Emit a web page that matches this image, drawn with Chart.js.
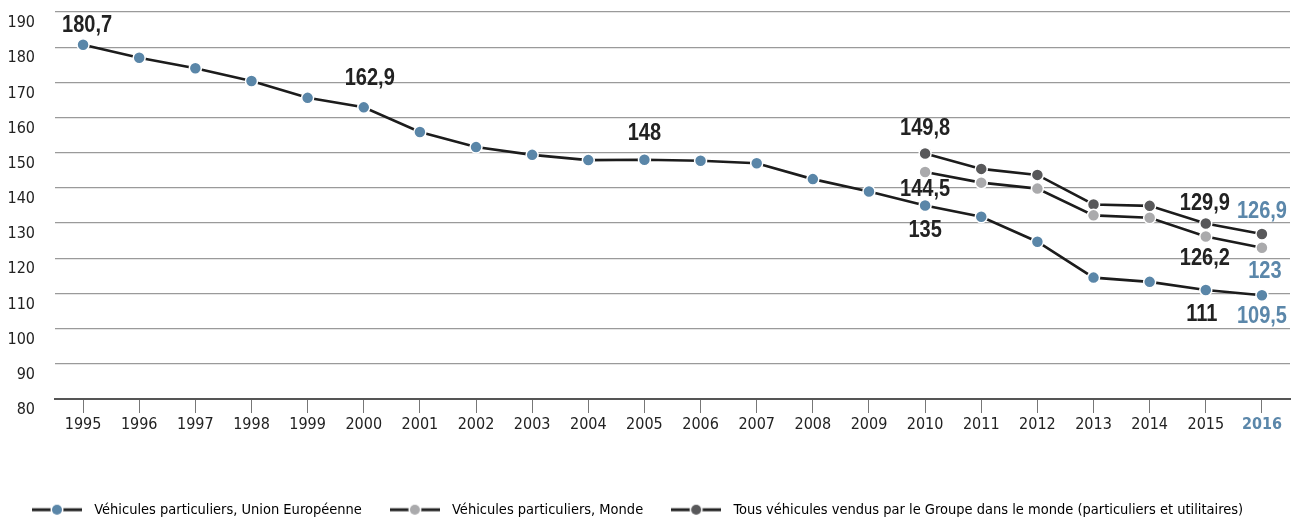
<!DOCTYPE html>
<html>
<head>
<meta charset="utf-8">
<script src="https://cdn.jsdelivr.net/npm/chart.js@4.4.0/dist/chart.umd.min.js"></script>
<style>
  html, body { margin: 0; padding: 0; background: #fff; }
  #wrap { width: 1291px; height: 519px; }
</style>
</head>
<body>
<div id="wrap"><canvas id="co2Chart" width="1291" height="519"></canvas></div>
<script>
// Years on the x axis
var years = ['1995', '1996', '1997', '1998', '1999', '2000', '2001', '2002', '2003', '2004', '2005',
             '2006', '2007', '2008', '2009', '2010', '2011', '2012', '2013', '2014', '2015', '2016'];

// Series (g CO2/km)
var euValues    = [180.7, 177.0, 174.0, 170.4, 165.6, 162.9, 155.9, 151.6, 149.4, 147.9, 148,
                   147.7, 147.0, 142.5, 139.0, 135, 131.8, 124.7, 114.5, 113.3, 111, 109.5];
var worldValues = [null, null, null, null, null, null, null, null, null, null, null,
                   null, null, null, null, 144.5, 141.5, 139.8, 132.2, 131.5, 126.2, 123];
var groupValues = [null, null, null, null, null, null, null, null, null, null, null,
                   null, null, null, null, 149.8, 145.4, 143.7, 135.3, 134.9, 129.9, 126.9];

var seriesNames = ['Véhicules particuliers, Union Européenne',
                   'Véhicules particuliers, Monde',
                   'Tous véhicules vendus par le Groupe dans le monde (particuliers et utilitaires)'];

// y axis range
var yMin = 80, yMax = 190, yStep = 10;

var FONT = "'DejaVu Sans Condensed', 'Liberation Sans', sans-serif";
var LABEL_FONT = "'Liberation Sans', Arial, sans-serif";
var BLUE = '#5b87aa';
var pointColors = ['#5a86a8', '#aaaaac', '#58585a'];

// which points get a value label (dataset, index) and where the text sits
var valueLabels = [
    { ds: 0, i: 0,  dx: 4,  dy: -19, color: '#222' },
    { ds: 0, i: 5,  dx: 6,  dy: -29, color: '#222' },
    { ds: 0, i: 10, dx: 0,  dy: -26, color: '#222' },
    { ds: 2, i: 15, dx: 0,  dy: -25, color: '#222' },
    { ds: 1, i: 15, dx: 0,  dy: 18,  color: '#222' },
    { ds: 0, i: 15, dx: 0,  dy: 25,  color: '#222' },
    { ds: 2, i: 20, dx: -1, dy: -20, color: '#222' },
    { ds: 1, i: 20, dx: -1, dy: 22,  color: '#222' },
    { ds: 0, i: 20, dx: -4, dy: 25,  color: '#222' },
    { ds: 2, i: 21, dx: 0,  dy: -22, color: BLUE },
    { ds: 1, i: 21, dx: 3,  dy: 24,  color: BLUE },
    { ds: 0, i: 21, dx: 0,  dy: 21,  color: BLUE }
];

function frNumber(v) {
    return String(v).replace('.', ',');
}

// legend symbol: a dark line with a coloured dot in the middle
function legendSymbol(color) {
    var c = document.createElement('canvas');
    c.width = 50;
    c.height = 14;
    var g = c.getContext('2d');
    g.strokeStyle = '#222';
    g.lineWidth = 3;
    g.beginPath();
    g.moveTo(0, 7);
    g.lineTo(50, 7);
    g.stroke();
    g.beginPath();
    g.arc(25, 7, 6.5, 0, Math.PI * 2);
    g.fillStyle = '#fff';
    g.fill();
    g.beginPath();
    g.arc(25, 7, 5, 0, Math.PI * 2);
    g.fillStyle = color;
    g.fill();
    return c;
}

var valueLabelPlugin = {
    id: 'valueLabels',
    afterDatasetsDraw: function(chart) {
        var ctx = chart.ctx;
        valueLabels.forEach(function(l) {
            var pt = chart.getDatasetMeta(l.ds).data[l.i];
            var v = chart.data.datasets[l.ds].data[l.i];
            ctx.save();
            ctx.font = 'bold 23px ' + LABEL_FONT;
            ctx.textAlign = 'center';
            ctx.textBaseline = 'middle';
            ctx.fillStyle = l.color;
            ctx.translate(pt.x + l.dx, pt.y + l.dy);
            ctx.scale(0.87, 1); // condensed look
            ctx.fillText(frNumber(v), 0, 0);
            ctx.restore();
        });
    }
};

function makeDataset(label, data, color) {
    return {
        label: label,
        data: data,
        borderColor: '#1c1c1c',
        borderWidth: 2.6,
        pointBackgroundColor: color,
        pointBorderColor: '#fff',
        pointBorderWidth: 1.5,
        pointRadius: 6,
        pointHoverRadius: 6,
        tension: 0,
        spanGaps: false
    };
}

var ctx = document.getElementById('co2Chart').getContext('2d');
var symbols = pointColors.map(legendSymbol);

new Chart(ctx, {
    type: 'line',
    data: {
        labels: years,
        datasets: [
            makeDataset(seriesNames[0], euValues, pointColors[0]),
            makeDataset(seriesNames[1], worldValues, pointColors[1]),
            makeDataset(seriesNames[2], groupValues, pointColors[2])
        ]
    },
    options: {
        responsive: false,
        animation: false,
        layout: {
            autoPadding: false,
            padding: { top: 12, right: 1, left: 4, bottom: -8 }
        },
        plugins: {
            tooltip: { enabled: false },
            legend: {
                position: 'bottom',
                align: 'start',
                labels: {
                    usePointStyle: true,
                    pointStyleWidth: 60,
                    padding: 23,
                    color: '#333',
                    font: { family: FONT, size: 14.5 },
                    generateLabels: function(chart) {
                        return chart.data.datasets.map(function(ds, i) {
                            return {
                                text: ds.label,
                                pointStyle: symbols[i],
                                fillStyle: pointColors[i],
                                strokeStyle: pointColors[i],
                                lineWidth: 0,
                                hidden: false,
                                datasetIndex: i
                            };
                        });
                    }
                }
            }
        },
        scales: {
            x: {
                offset: true,
                grid: {
                    display: true,
                    drawOnChartArea: false,
                    drawTicks: true,
                    tickLength: 14,
                    color: '#777',
                    lineWidth: 1
                },
                border: { display: true, color: '#555', width: 2 },
                ticks: {
                    padding: 2,
                    autoSkip: false,
                    maxRotation: 0,
                    color: function(c) { return c.index === years.length - 1 ? BLUE : '#222'; },
                    font: function(c) {
                        return c.index === years.length - 1
                            ? { family: FONT, size: 16, weight: 'bold' }
                            : { family: FONT, size: 16 };
                    }
                },
                afterFit: function(scale) {
                    scale.height = 80.5;
                }
            },
            y: {
                min: yMin,
                max: yMax,
                grid: {
                    color: '#9a9a9a',
                    lineWidth: 1.2,
                    drawTicks: true,
                    tickLength: 20,
                    tickColor: 'rgba(0,0,0,0)'
                },
                border: { display: false },
                ticks: {
                    stepSize: yStep,
                    padding: 0,
                    labelOffset: 11,
                    color: '#222',
                    font: { family: FONT, size: 16 }
                },
                afterFit: function(scale) {
                    scale.width = 51;
                }
            }
        }
    },
    plugins: [valueLabelPlugin]
});
</script>
</body>
</html>
